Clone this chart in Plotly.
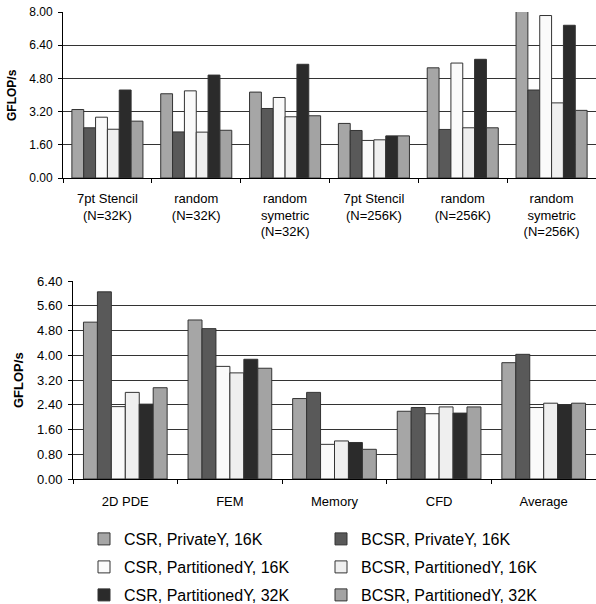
import plotly.graph_objects as go

# ---------------- data ----------------
top_categories = [
    "7pt Stencil<br>(N=32K)",
    "random<br>(N=32K)",
    "random<br>symetric<br>(N=32K)",
    "7pt Stencil<br>(N=256K)",
    "random<br>(N=256K)",
    "random<br>symetric<br>(N=256K)",
]
bottom_categories = ["2D PDE", "FEM", "Memory", "CFD", "Average"]

series_names = [
    "CSR, PrivateY, 16K",
    "BCSR, PrivateY, 16K",
    "CSR, PartitionedY, 16K",
    "BCSR, PartitionedY, 16K",
    "CSR, PartitionedY, 32K",
    "BCSR, PartitionedY, 32K",
]

top_csr_priv16 = [3.30, 4.06, 4.14, 2.63, 5.31, 8.10]
top_bcsr_priv16 = [2.42, 2.22, 3.35, 2.29, 2.34, 4.24]
top_csr_part16 = [2.93, 4.20, 3.88, 1.81, 5.54, 7.83]
top_bcsr_part16 = [2.35, 2.21, 2.95, 1.84, 2.42, 3.62]
top_csr_part32 = [4.24, 4.96, 5.48, 2.03, 5.72, 7.36]
top_bcsr_part32 = [2.74, 2.30, 3.00, 2.03, 2.42, 3.26]

bot_csr_priv16 = [5.07, 5.14, 2.60, 2.19, 3.76]
bot_bcsr_priv16 = [6.05, 4.86, 2.80, 2.31, 4.03]
bot_csr_part16 = [2.34, 3.64, 1.12, 2.11, 2.31]
bot_bcsr_part16 = [2.80, 3.43, 1.23, 2.33, 2.45]
bot_csr_part32 = [2.42, 3.87, 1.18, 2.13, 2.40]
bot_bcsr_part32 = [2.95, 3.58, 0.96, 2.33, 2.45]

top_series = [top_csr_priv16, top_bcsr_priv16, top_csr_part16,
              top_bcsr_part16, top_csr_part32, top_bcsr_part32]
bot_series = [bot_csr_priv16, bot_bcsr_priv16, bot_csr_part16,
              bot_bcsr_part16, bot_csr_part32, bot_bcsr_part32]

colors = ["#a6a6a6", "#595959", "#fafafa", "#efefef", "#2b2b2b", "#a3a3a3"]
legend_ids = ["legend", "legend", "legend2", "legend2", "legend3", "legend3"]

FONT = "Liberation Sans, Arial, sans-serif"
W, H = 596, 604

fig = go.Figure()
for i, name in enumerate(series_names):
    fig.add_trace(go.Bar(
        x=top_categories, y=top_series[i], name=name,
        marker=dict(color=colors[i], line=dict(color="#333333", width=1)),
        xaxis="x", yaxis="y", legendgroup=name, legend=legend_ids[i],
        showlegend=True,
    ))
for i, name in enumerate(series_names):
    fig.add_trace(go.Bar(
        x=bottom_categories, y=bot_series[i], name=name,
        marker=dict(color=colors[i], line=dict(color="#333333", width=1)),
        xaxis="x2", yaxis="y2", legendgroup=name, showlegend=False,
    ))

def px_x(p):
    return p / W

def px_y(p):
    return 1 - p / H

def axis_common(size):
    return dict(
        showline=True, linecolor="#000000", linewidth=1,
        ticks="outside", ticklen=4, tickcolor="#000000",
        tickfont=dict(family=FONT, size=size, color="#000000"),
    )

legend_common = dict(
    orientation="h", xanchor="left", yanchor="top",
    font=dict(family=FONT, size=16, color="#000000"),
    entrywidth=192, entrywidthmode="pixels",
    bgcolor="rgba(0,0,0,0)", borderwidth=0,
)

fig.update_layout(
    width=W, height=H,
    margin=dict(l=0, r=0, t=0, b=0, autoexpand=False),
    paper_bgcolor="white", plot_bgcolor="white",
    barmode="group", bargap=0.2, bargroupgap=0.0,
    font=dict(family=FONT, color="#000000"),
    xaxis=dict(domain=[px_x(63), 1.0], anchor="y", type="category",
               tickson="boundaries", showgrid=False, ticklabelstandoff=8,
               **axis_common(13)),
    yaxis=dict(domain=[px_y(178), px_y(12)], anchor="x",
               range=[0, 8.0], tick0=0, dtick=1.6, tickformat=".2f",
               showgrid=True, gridcolor="#333333", gridwidth=1,
               zeroline=False, ticklabelstandoff=3, **axis_common(12)),
    xaxis2=dict(domain=[px_x(73), 1.0], anchor="y2", type="category",
                tickson="boundaries", showgrid=False, ticklabelstandoff=10,
                **axis_common(13)),
    yaxis2=dict(domain=[px_y(479), px_y(281)], anchor="x2",
                range=[0, 6.4], tick0=0, dtick=0.8, tickformat=".2f",
                showgrid=True, gridcolor="#333333", gridwidth=1,
                zeroline=False, ticklabelstandoff=3, **axis_common(13)),
    legend=dict(x=px_x(84), y=px_y(522), **legend_common),
    legend2=dict(x=px_x(84), y=px_y(550), **legend_common),
    legend3=dict(x=px_x(84), y=px_y(578), **legend_common),
    annotations=[
        dict(text="<b>GFLOP/s</b>", textangle=-90, xref="paper", yref="paper",
             x=px_x(12), y=px_y(95), xanchor="center", yanchor="middle",
             showarrow=False, font=dict(family=FONT, size=12, color="#000000")),
        dict(text="<b>GFLOP/s</b>", textangle=-90, xref="paper", yref="paper",
             x=px_x(18), y=px_y(380), xanchor="center", yanchor="middle",
             showarrow=False, font=dict(family=FONT, size=13, color="#000000")),
    ],
)

fig.write_html("out.html", config={"displayModeBar": False},
               post_script="document.body.style.margin='0px';")
